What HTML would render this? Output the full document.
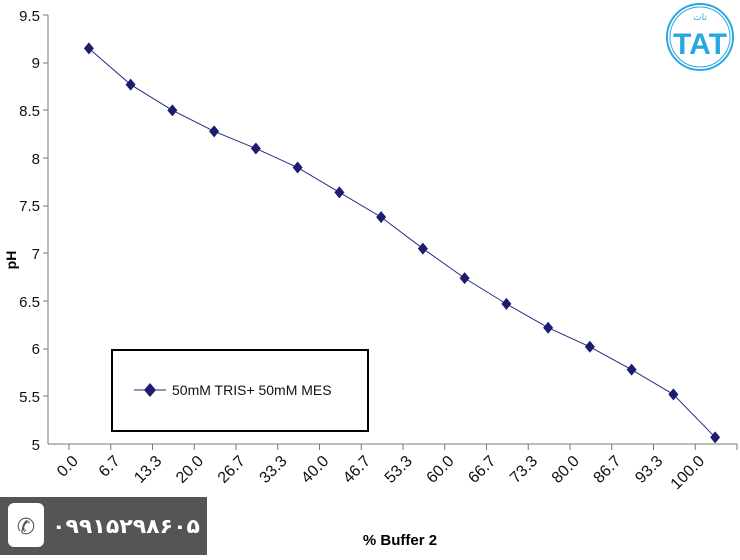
<!DOCTYPE html>
<html><head><style>body{margin:0;background:#fff}</style></head><body>
<svg width="740" height="555" xmlns="http://www.w3.org/2000/svg" font-family="Liberation Sans, Arial, sans-serif">
<rect width="740" height="555" fill="#fff"/>
<g stroke="#777" stroke-width="1">
<line x1="48" y1="15" x2="48" y2="444"/>
<line x1="48" y1="444" x2="737" y2="444"/>
</g>
<g font-size="15" text-anchor="end" fill="#111">
<text x="40" y="21">9.5</text><text x="40" y="68">9</text><text x="40" y="116">8.5</text><text x="40" y="164">8</text><text x="40" y="211">7.5</text><text x="40" y="259">7</text><text x="40" y="307">6.5</text><text x="40" y="354">6</text><text x="40" y="402">5.5</text><text x="40" y="450">5</text>
</g>
<g stroke="#777">
<line x1="43" y1="15" x2="48" y2="15"/><line x1="43" y1="63" x2="48" y2="63"/><line x1="43" y1="110" x2="48" y2="110"/><line x1="43" y1="158" x2="48" y2="158"/><line x1="43" y1="206" x2="48" y2="206"/><line x1="43" y1="253" x2="48" y2="253"/><line x1="43" y1="301" x2="48" y2="301"/><line x1="43" y1="349" x2="48" y2="349"/><line x1="43" y1="396" x2="48" y2="396"/>
</g>
<g id="xt" stroke="#777"></g>
<g id="xl" font-size="16" fill="#111" text-anchor="end"></g>
<polyline id="ln" fill="none" stroke="#2a2a80" stroke-width="1"/>
<g id="pts" fill="#1c1c70"></g>
<text x="16" y="260" font-size="14" font-weight="bold" transform="rotate(-90 16 260)" text-anchor="middle">pH</text>
<text x="400" y="545" font-size="15" font-weight="bold" text-anchor="middle">% Buffer 2</text>
<rect x="112" y="350" width="256" height="81" fill="#fff" stroke="#000" stroke-width="2"/>
<line x1="134" y1="390" x2="166" y2="390" stroke="#2a2a80"/>
<path d="M150 383 L156 390 L150 397 L144 390Z" fill="#1c1c70"/>
<text x="172" y="395" font-size="14" fill="#111">50mM TRIS+ 50mM MES</text>
<rect x="0" y="497" width="207" height="58" fill="#555"/>
<rect x="8" y="503" width="36" height="44" rx="6" fill="#fff"/>
<text x="26" y="534" font-size="22" text-anchor="middle" fill="#555">✆</text>
<text x="52" y="533" font-size="20" font-weight="bold" fill="#fff" textLength="148" lengthAdjust="spacingAndGlyphs" font-family="DejaVu Sans, sans-serif">۰۹۹۱۵۲۹۸۶۰۵</text>
<circle cx="700" cy="37" r="33" fill="none" stroke="#29a8e0" stroke-width="2"/>
<circle cx="700" cy="37" r="30" fill="none" stroke="#29a8e0" stroke-width="1"/>
<text x="700" y="54" font-size="30" font-weight="bold" fill="#29a8e0" text-anchor="middle">TAT</text>
<text x="700" y="20" font-size="9" fill="#29a8e0" text-anchor="middle">تات</text>
<script>
var v=[9.15,8.77,8.5,8.28,8.1,7.9,7.64,7.38,7.05,6.74,6.47,6.22,6.02,5.78,5.52,5.07];
var lab=["0.0","6.7","13.3","20.0","26.7","33.3","40.0","46.7","53.3","60.0","66.7","73.3","80.0","86.7","93.3","100.0"];
var ns="http://www.w3.org/2000/svg",x0=69,w=41.75,pts=[];
function el(t,a,p){var e=document.createElementNS(ns,t);for(var k in a)e.setAttribute(k,a[k]);document.getElementById(p).appendChild(e);return e;}
for(var i=0;i<=16;i++){var x=x0+i*w;el("line",{x1:x,y1:444,x2:x,y2:450},"xt");}
for(var i=0;i<16;i++){var x=x0+i*w+w/2-1,y=444-(v[i]-5)*95.33;pts.push(x+","+y);
el("path",{d:"M"+x+" "+(y-6)+" L"+(x+5)+" "+y+" L"+x+" "+(y+6)+" L"+(x-5)+" "+y+"Z"},"pts");
var tx=x0+i*w+10,ty=462;var t=el("text",{x:tx,y:ty,transform:"rotate(-45 "+tx+" "+ty+")"},"xl");t.textContent=lab[i];}
document.getElementById("ln").setAttribute("points",pts.join(" "));
</script>
</svg>
</body></html>
